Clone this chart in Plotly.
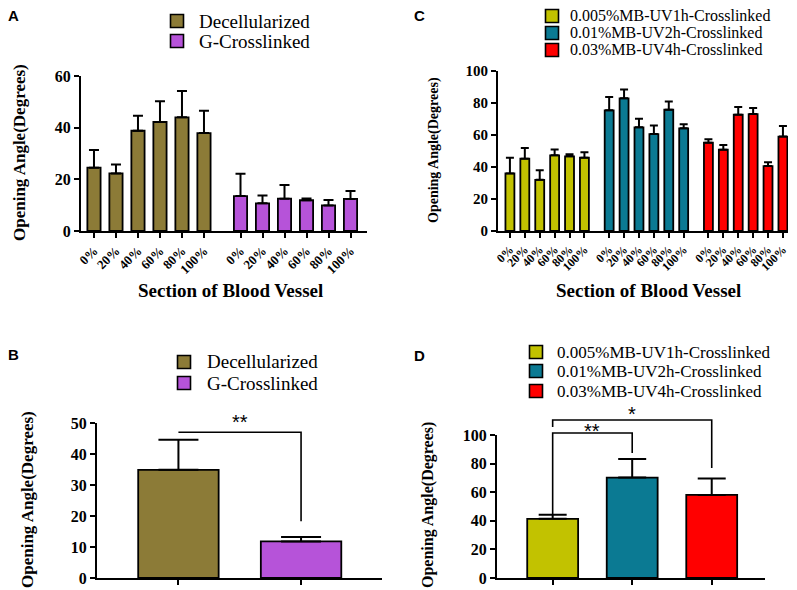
"""Opening angle bar charts (panels A-D) rebuilt with Plotly."""

import plotly.graph_objects as go

W, H = 797, 590
OFF = 8  # the page body margin pushes the figure 8 px right and down

sections = ["0%", "20%", "40%", "60%", "80%", "100%"]

# Panel A: opening angle per section
a_names = ["Decellularized", "G-Crosslinked"]
a_decell = [24.5, 22.3, 38.8, 42.2, 44.0, 37.9]
a_decell_sd = [6.9, 3.4, 5.8, 8.0, 10.2, 8.6]
a_gcross = [13.5, 10.7, 12.5, 11.9, 9.9, 12.4]
a_gcross_sd = [8.7, 3.0, 5.3, 0.7, 2.1, 3.1]

# Panel C: methylene blue crosslinked per section
c_names = ["0.005%MB-UV1h-Crosslinked", "0.01%MB-UV2h-Crosslinked", "0.03%MB-UV4h-Crosslinked"]
c_mb005 = [36.0, 45.2, 32.0, 47.3, 46.7, 45.8]
c_mb005_sd = [9.8, 6.7, 5.9, 3.7, 1.2, 3.4]
c_mb01 = [75.4, 82.9, 64.8, 60.6, 75.8, 64.2]
c_mb01_sd = [8.4, 5.6, 5.4, 5.4, 5.2, 2.5]
c_mb03 = [55.2, 50.8, 72.7, 73.1, 40.6, 59.0]
c_mb03_sd = [2.1, 2.9, 4.8, 3.8, 2.3, 6.6]

# Panel B: overall means
b_means = [34.9, 11.8]
b_sd = [9.7, 1.4]

# Panel D: overall means
d_means = [41.4, 70.2, 58.1]
d_sd = [2.8, 13.1, 11.4]

OLIVE = "#8C7B37"
PURPLE = "#B653D9"
YELLOW = "#C2C200"
TEAL = "#0B7A93"
RED = "#FF0000"

SERIF = "Liberation Serif, Times New Roman, serif"
SANS = "Liberation Sans, Arial, sans-serif"
GAP = 1.66

FW, FH = W - OFF, H - OFF


def px_x(p):
  return (p - OFF) / FW


def px_y(p):
  return 1 - (p - OFF) / FH


fig = go.Figure()


def add_bar(x, y, sd, color, name, xa, ya, width, cap):
  fig.add_trace(go.Bar(
    x=x, y=y, name=name, width=width, showlegend=False,
    marker=dict(color=color, line=dict(color="black", width=1.8)),
    error_y=dict(type="data", symmetric=False, array=sd, arrayminus=[0] * len(sd),
                 color="black", thickness=2, width=cap),
    xaxis=xa, yaxis=ya,
  ))


def group_x(g, n=6):
  return [i + g * (n - 1 + GAP) for i in range(n)]


# Panel A
a_series = [(a_decell, a_decell_sd, OLIVE), (a_gcross, a_gcross_sd, PURPLE)]
a_ticks, a_text = [], []
for g, (vals, sd, col) in enumerate(a_series):
  xs = group_x(g)
  add_bar(xs, vals, sd, col, a_names[g], "x", "y", 0.6, 5)
  a_ticks += xs
  a_text += sections

# Panel C
c_series = [(c_mb005, c_mb005_sd, YELLOW), (c_mb01, c_mb01_sd, TEAL), (c_mb03, c_mb03_sd, RED)]
c_ticks, c_text = [], []
for g, (vals, sd, col) in enumerate(c_series):
  xs = group_x(g)
  add_bar(xs, vals, sd, col, c_names[g], "x3", "y3", 0.6, 4)
  c_ticks += xs
  c_text += sections

# Panel B
for i, col in enumerate([OLIVE, PURPLE]):
  add_bar([i], [b_means[i]], [b_sd[i]], col, a_names[i], "x2", "y2", 0.656, 20)

# Panel D
for i, col in enumerate([YELLOW, TEAL, RED]):
  add_bar([i], [d_means[i]], [d_sd[i]], col, c_names[i], "x4", "y4", 0.64, 14)

axis_common = dict(showline=True, linecolor="black", linewidth=2, ticks="outside",
                   ticklen=5, tickwidth=2, tickcolor="black", showgrid=False,
                   zeroline=False, automargin=False, fixedrange=True)


def num_font(size):
  return dict(family=SERIF, size=size, color="black", weight="bold")


x_ranges = {
  "x": [-0.59, 12.41],
  "x2": [-0.664, 1.66],
  "x3": [-0.8, 18.66],
  "x4": [-0.70, 2.67],
}
y_ranges = {"y": [0, 60], "y2": [0, 50], "y3": [0, 100], "y4": [0, 100]}

fig.update_layout(
  xaxis=dict(domain=[px_x(81), px_x(367)], range=x_ranges["x"], anchor="y",
             tickmode="array", tickvals=a_ticks, ticktext=a_text, tickangle=-45,
             tickfont=num_font(13), **axis_common),
  yaxis=dict(domain=[px_y(231), px_y(76)], range=y_ranges["y"], anchor="x",
             tickvals=[0, 20, 40, 60], tickfont=num_font(16), **axis_common),
  xaxis2=dict(domain=[px_x(97), px_x(382)], range=x_ranges["x2"], anchor="y2",
              tickmode="array", tickvals=[0, 1], showticklabels=False, **axis_common),
  yaxis2=dict(domain=[px_y(578), px_y(423)], range=y_ranges["y2"], anchor="x2",
              tickvals=[0, 10, 20, 30, 40, 50], tickfont=num_font(16), **axis_common),
  xaxis3=dict(domain=[px_x(498), px_x(788)], range=x_ranges["x3"], anchor="y3",
              tickmode="array", tickvals=c_ticks, ticktext=c_text, tickangle=-45,
              tickfont=num_font(12), **axis_common),
  yaxis3=dict(domain=[px_y(231), px_y(71)], range=y_ranges["y3"], anchor="x3",
              tickvals=[0, 20, 40, 60, 80, 100], tickfont=num_font(15), **axis_common),
  xaxis4=dict(domain=[px_x(497), px_x(765)], range=x_ranges["x4"], anchor="y4",
              tickmode="array", tickvals=[0, 1, 2], showticklabels=False, **axis_common),
  yaxis4=dict(domain=[px_y(578), px_y(435)], range=y_ranges["y4"], anchor="x4",
              tickvals=[0, 20, 40, 60, 80, 100], tickfont=num_font(16), **axis_common),
  barmode="overlay",
  width=FW, height=FH,
  margin=dict(l=0, r=0, t=0, b=0, autoexpand=False),
  paper_bgcolor="white", plot_bgcolor="white",
  showlegend=False,
)


def frac(v, rng):
  return (v - rng[0]) / (rng[1] - rng[0])


def bracket(xa, ya, pts):
  xr, yr = x_ranges[xa], y_ranges[ya]
  path = ""
  for k, (xv, yv) in enumerate(pts):
    path += ("M" if k == 0 else "L") + f"{frac(xv, xr):.4f},{frac(yv, yr):.4f}"
  fig.add_shape(type="path", path=path, xref=f"{xa} domain", yref=f"{ya} domain",
                line=dict(color="black", width=1.6))


def star(xa, ya, xv, yv, txt):
  fig.add_annotation(x=frac(xv, x_ranges[xa]), y=frac(yv, y_ranges[ya]),
                     xref=f"{xa} domain", yref=f"{ya} domain", text=txt, showarrow=False,
                     xanchor="center", yanchor="middle",
                     font=dict(family=SANS, size=20, color="black"))


# significance brackets
bracket("x2", "y2", [(0, 47), (1, 47), (1, 18.3)])
bracket("x4", "y4", [(0, 44.5), (0, 101.4), (1, 101.4), (1, 87.4)])
bracket("x4", "y4", [(0, 105.6), (0, 110.5), (2, 110.5), (2, 77)])
star("x2", "y2", 0.5, 50.3, "**")
star("x4", "y4", 0.5, 103.0, "**")
star("x4", "y4", 1.0, 114.5, "*")


# legends drawn as swatch + label
def legend_block(sq_x, text_x, rows, names, colors, size):
  for yy, name, col in zip(rows, names, colors):
    fig.add_shape(type="rect", xref="paper", yref="paper",
                  x0=px_x(sq_x - 6.5), x1=px_x(sq_x + 6.5),
                  y0=px_y(yy + 6.5), y1=px_y(yy - 6.5),
                  fillcolor=col, line=dict(color="black", width=1.6))
    fig.add_annotation(x=px_x(text_x), y=px_y(yy), xref="paper", yref="paper",
                       text=name, showarrow=False, xanchor="left", yanchor="middle",
                       font=dict(family=SERIF, size=size, color="black"))


legend_block(177, 197, [21, 41], a_names, [OLIVE, PURPLE], 19)
legend_block(184, 205, [362, 383], a_names, [OLIVE, PURPLE], 19)
legend_block(552, 568, [16, 33, 50], c_names, [YELLOW, TEAL, RED], 16)
legend_block(536, 555, [352, 371, 391], c_names, [YELLOW, TEAL, RED], 17)

# axis titles
for x, y, txt, ang, size in [
  (230, 290, "Section of Blood Vessel", 0, 19),
  (648, 290, "Section of Blood Vessel", 0, 19),
  (19, 153, "Opening Angle(Degrees)", -90, 17),
  (434, 150, "Opening Angle(Degrees)", -90, 14),
  (27, 500, "Opening Angle(Degrees)", -90, 17),
  (428, 505, "Opening Angle(Degrees)", -90, 16),
]:
  fig.add_annotation(x=px_x(x), y=px_y(y), xref="paper", yref="paper", text=txt,
                     textangle=ang, showarrow=False, xanchor="center", yanchor="middle",
                     font=dict(family=SERIF, size=size, color="black", weight="bold"))

# panel letters
for x, y, txt in [(13, 16, "A"), (13, 354, "B"), (420, 16, "C"), (420, 355, "D")]:
  fig.add_annotation(x=px_x(x), y=px_y(y), xref="paper", yref="paper", text=txt,
                     showarrow=False, xanchor="center", yanchor="middle",
                     font=dict(family=SANS, size=15, color="black", weight="bold"))

fig.write_html("out.html")
